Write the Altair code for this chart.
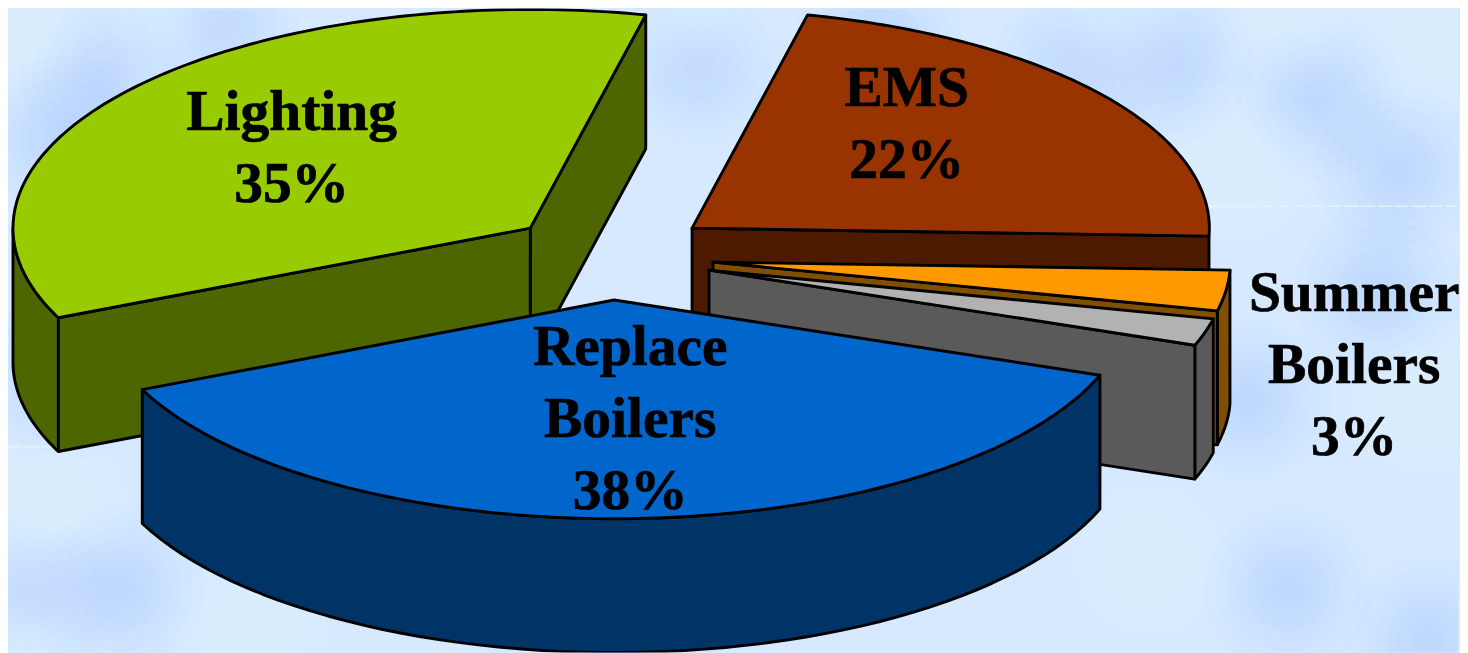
import numpy as np
import pandas as pd
import altair as alt

# ---- chart values (clockwise, starting from the EMS slice) ----
slices = ["EMS", "Summer Boilers", "Other", "Replace Boilers", "Lighting"]
shares = [22.0, 3.0, 2.0, 37.7, 35.3]
label_lines = [["EMS", "22%"], ["Summer", "Boilers", "3%"], [], ["Replace", "Boilers", "38%"], ["Lighting", "35%"]]

# ---- styling / layout ----
top_colors = ["#993300", "#ff9900", "#b2b2b2", "#0066cc", "#99cc00"]
side_colors = ["#4d1a00", "#805000", "#5a5a5a", "#003366", "#4d6600"]
apex_x = [693, 714, 710, 615, 531]
apex_y = [228, 262, 270, 300, 228]
label_x = [908, 1356, 0, 631, 292]
label_base = [106, 311, 0, 365, 130]
line_gap = 72
first_angle = 12.9
RX, RY, DEPTH = 518, 219, 134
W, H, MARGIN = 1452, 645, 8

# soft cloud patches of the backdrop
dark_x = [105, 215, 60, 1320, 1400, 1080, 1170, 120, 1430, 1290, 700, 60, 1380, 880, 30, 1250]
dark_y = [75, 25, 140, 95, 170, 65, 60, 590, 640, 590, 60, 380, 290, 40, 600, 400]
light_x = [30, 170, 1240, 1120, 1440, 700, 50, 250, 1300, 1430, 1150, 30]
light_y = [20, 20, 165, 30, 30, 15, 500, 640, 10, 400, 560, 640]

X = alt.X("x:Q", axis=None, scale=alt.Scale(domain=[MARGIN, MARGIN + W], nice=False, zero=False))
Y = alt.Y("y:Q", axis=None, scale=alt.Scale(domain=[MARGIN + H, MARGIN], nice=False, zero=False))


def arc(i, a0, a1, drop=0.0, n=60):
    t = np.radians(np.linspace(a0, a1, n))
    return apex_x[i] + RX * np.sin(t), apex_y[i] - RY * np.cos(t) + drop


def poly(xs, ys, color):
    df = pd.DataFrame({"x": xs, "y": ys, "i": range(len(xs))})
    return alt.Chart(df).mark_line(
        interpolate="linear-closed", fill=color, stroke="black",
        strokeWidth=2.9, strokeJoin="round", clip=True,
    ).encode(x=X, y=Y, order="i:Q")


def outer_wall(i, a0, a1):
    x0, y0 = arc(i, a0, a1)
    x1, y1 = arc(i, a1, a0, DEPTH)
    return poly(np.r_[x0, x1], np.r_[y0, y1], side_colors[i])


def cut_face(i, angle):
    ex, ey = arc(i, angle, angle, n=1)
    ax, ay = apex_x[i], apex_y[i]
    return poly([ax, ex[0], ex[0], ax], [ay, ey[0], ey[0] + DEPTH, ay + DEPTH], side_colors[i])


def top_face(i, a0, a1):
    x0, y0 = arc(i, a0, a1, n=120)
    return poly(np.r_[apex_x[i], x0], np.r_[apex_y[i], y0], top_colors[i])


def blobs(xs, ys, color):
    df = pd.DataFrame({"x": xs, "y": ys})
    out = []
    for radius in [95, 82, 70, 58, 47, 37, 28, 19]:
        out.append(alt.Chart(df).mark_point(
            filled=True, shape="circle", color=color, opacity=0.05,
            size=float(np.pi * radius ** 2), clip=True, strokeWidth=0,
        ).encode(x=X, y=Y))
    return out


edges = first_angle + np.r_[0, np.cumsum(np.array(shares) * 3.6)]
layers = blobs(dark_x, dark_y, "#a0caff") + blobs(light_x, light_y, "#eef6ff")

seam = pd.DataFrame({"x": [MARGIN, 1210], "x2": [52, MARGIN + W], "y": [447, 206]})
layers.append(alt.Chart(seam).mark_rule(color="#e6f2ff", strokeWidth=1.5, strokeDash=[14, 3], clip=True)
              .encode(x=X, x2="x2:Q", y=Y))

# Lighting (furthest back)
layers += [outer_wall(4, edges[4], 270), cut_face(4, edges[5]), cut_face(4, edges[4]),
           top_face(4, edges[4], edges[5])]
# EMS
layers += [cut_face(0, edges[1]), top_face(0, edges[0], edges[1])]
# Summer Boilers
layers += [outer_wall(1, edges[1], edges[2]), cut_face(1, edges[2]), top_face(1, edges[1], edges[2])]
# unlabelled grey slice
layers += [outer_wall(2, edges[2], edges[3]), cut_face(2, edges[3]), top_face(2, edges[2], edges[3])]
# Replace Boilers
layers += [outer_wall(3, edges[3], edges[4]), top_face(3, edges[3], edges[4])]

rows = []
for i, lines in enumerate(label_lines):
    for j, t in enumerate(lines):
        rows.append({"x": label_x[i], "y": label_base[i] + j * line_gap, "t": t})
layers.append(alt.Chart(pd.DataFrame(rows)).mark_text(
    font="Liberation Serif", fontWeight="bold", fontSize=57.5, color="black",
    stroke="black", strokeWidth=0.7,
    align="center", baseline="alphabetic",
).encode(x=X, y=Y, text="t:N"))

chart = alt.layer(*layers).properties(
    width=W, height=H, padding=0, background="#d6e9ff",
).configure_view(stroke=None)

chart.save("out.html", embed_options={"renderer": "svg", "actions": False})
